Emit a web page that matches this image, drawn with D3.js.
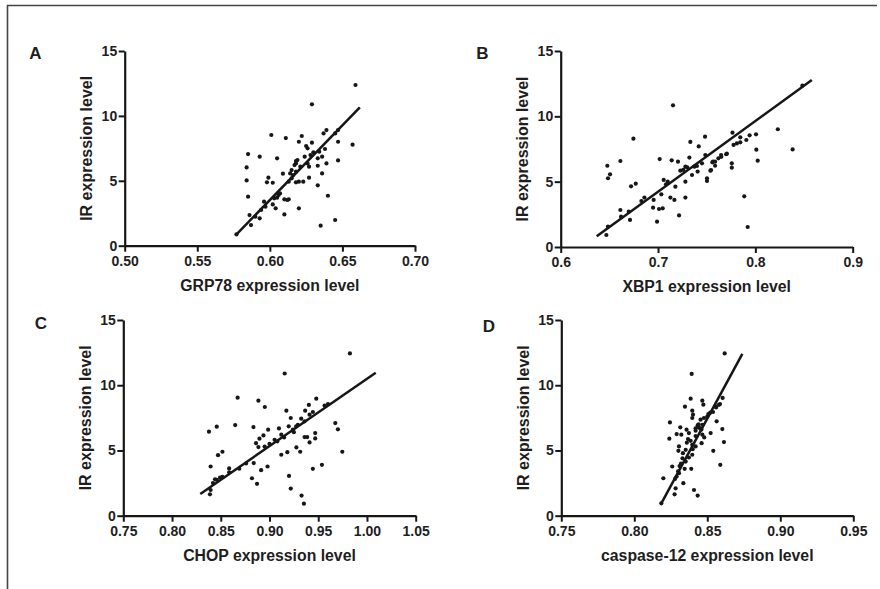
<!DOCTYPE html>
<html><head><meta charset="utf-8">
<script src="https://cdn.jsdelivr.net/npm/d3@7"></script>
<style>
html,body{margin:0;padding:0;background:#fff;}
svg{display:block;font-family:"Liberation Sans",Arial,sans-serif;}
</style></head>
<body>
<svg id="chart" width="880" height="589"></svg>
<script>
// ---------- DATA ----------
const yTicks = [0, 5, 10, 15];
const grp78Ticks = [0.50, 0.55, 0.60, 0.65, 0.70];
const xbp1Ticks = [0.6, 0.7, 0.8, 0.9];
const chopTicks = [0.75, 0.80, 0.85, 0.90, 0.95, 1.00, 1.05];
const casp12Ticks = [0.75, 0.80, 0.85, 0.90, 0.95];

const panelLetters = ["A", "B", "C", "D"];
const xTitles = ["GRP78 expression level", "XBP1 expression level", "CHOP expression level", "caspase-12 expression level"];
const yTitle = "IR expression level";

const grp78Points = [[0.659,12.38],[0.629,10.89],[0.601,8.53],[0.611,8.29],[0.622,8.45],[0.620,8.01],[0.625,7.68],[0.626,7.50],[0.629,7.94],[0.637,8.65],[0.639,8.91],[0.645,8.65],[0.647,8.91],[0.657,7.78],[0.647,8.01],[0.647,6.57],[0.636,5.57],[0.639,6.34],[0.638,7.45],[0.634,7.24],[0.636,6.86],[0.633,6.16],[0.633,6.73],[0.633,4.65],[0.640,3.85],[0.645,1.98],[0.635,1.54],[0.627,5.24],[0.627,6.09],[0.626,6.34],[0.623,4.93],[0.620,4.93],[0.618,4.88],[0.620,2.88],[0.619,6.60],[0.618,6.52],[0.621,6.09],[0.618,5.70],[0.616,5.44],[0.615,5.19],[0.613,4.93],[0.609,5.55],[0.605,6.73],[0.593,6.86],[0.585,7.06],[0.584,6.03],[0.584,5.03],[0.585,3.78],[0.586,2.36],[0.587,1.59],[0.593,2.11],[0.599,5.24],[0.598,4.88],[0.602,4.85],[0.607,4.03],[0.610,3.57],[0.613,3.57],[0.612,3.52],[0.610,2.41],[0.604,2.88],[0.603,3.65],[0.602,3.18],[0.597,3.00],[0.596,3.39],[0.594,2.75],[0.590,2.23],[0.577,0.87],[0.615,5.83],[0.617,6.21],[0.618,6.34],[0.614,5.57],[0.606,3.90],[0.605,3.70],[0.624,6.86],[0.628,6.98],[0.630,7.19]];
const grp78Fit = [[0.577,0.87],[0.662,10.66]];

const xbp1Points = [[0.7154,10.84],[0.6747,8.29],[0.6479,6.22],[0.6613,6.58],[0.6507,5.56],[0.6486,5.26],[0.6723,4.64],[0.6771,4.85],[0.7017,6.73],[0.7140,6.63],[0.7205,6.53],[0.7332,8.04],[0.7418,7.70],[0.7483,8.44],[0.7322,6.84],[0.7281,6.15],[0.7229,5.84],[0.7058,5.13],[0.7082,4.80],[0.7034,4.03],[0.7127,3.78],[0.7168,3.60],[0.7281,3.78],[0.7178,4.62],[0.6949,3.01],[0.7010,2.91],[0.7048,2.96],[0.6990,1.94],[0.7216,2.42],[0.6829,3.52],[0.6955,3.60],[0.6712,2.07],[0.6613,2.83],[0.6620,2.32],[0.6486,1.56],[0.6469,0.92],[0.6699,2.70],[0.7281,5.00],[0.7349,5.51],[0.7407,5.77],[0.7373,6.15],[0.7452,6.40],[0.7503,5.05],[0.7503,5.26],[0.7538,5.84],[0.7565,6.53],[0.7486,7.04],[0.6860,3.78],[0.8483,12.35],[0.8231,9.01],[0.8383,7.47],[0.8010,7.45],[0.8024,6.61],[0.8007,8.62],[0.7941,8.55],[0.7907,8.19],[0.7845,8.39],[0.7845,8.01],[0.7810,7.93],[0.7776,7.81],[0.7765,8.75],[0.7758,6.40],[0.7758,6.07],[0.7886,3.88],[0.7921,1.53],[0.7707,7.14],[0.7648,7.04],[0.7620,6.79],[0.7586,6.53],[0.7558,6.48],[0.7586,6.22],[0.7545,5.89],[0.7260,5.90],[0.7300,6.10],[0.7100,5.00],[0.7400,6.20],[0.7650,6.90],[0.7700,7.10]];
const xbp1Fit = [[0.637,0.82],[0.858,12.78]];

const chopPoints = [[0.9156,10.90],[0.8673,9.05],[0.8886,8.82],[0.8952,8.33],[0.9173,8.05],[0.8379,6.44],[0.8459,6.82],[0.8648,6.95],[0.8835,6.79],[0.8986,6.59],[0.8938,6.15],[0.8897,5.90],[0.8862,5.56],[0.8886,5.26],[0.9097,6.69],[0.9121,6.21],[0.9197,6.85],[0.9218,7.49],[0.8517,4.90],[0.8472,4.64],[0.8396,3.77],[0.8586,3.62],[0.8838,4.03],[0.8914,3.49],[0.8980,3.77],[0.8820,2.87],[0.8872,2.44],[0.9121,4.67],[0.9183,4.87],[0.9200,3.05],[0.9218,2.08],[0.8389,1.64],[0.8396,1.97],[0.8441,2.79],[0.8493,2.92],[0.9276,5.23],[0.9052,5.82],[0.8517,2.97],[0.8586,3.33],[0.8690,3.60],[0.8760,4.00],[0.8950,5.30],[0.9000,5.50],[0.9080,5.70],[0.9150,6.00],[0.9250,6.40],[0.8420,2.50],[0.8460,2.75],[0.9825,12.44],[0.9480,8.97],[0.9404,8.49],[0.9366,8.05],[0.9325,7.44],[0.9675,7.10],[0.9702,6.62],[0.9747,4.90],[0.9538,3.90],[0.9445,3.59],[0.9469,6.33],[0.9469,5.92],[0.9411,5.62],[0.9360,6.03],[0.9387,6.03],[0.9315,4.90],[0.9329,1.54],[0.9353,0.92],[0.9411,7.74],[0.9445,7.95],[0.9565,8.44],[0.9600,8.56],[0.9291,6.97],[0.9240,6.59],[0.9274,6.85],[0.9360,7.23]];
const chopFit = [[0.829,1.67],[1.009,10.95]];

const casp12Points = [[0.8619,12.44],[0.8393,10.87],[0.8386,8.97],[0.8466,8.82],[0.8473,8.51],[0.8347,8.36],[0.8397,8.05],[0.8402,7.74],[0.8397,7.49],[0.8605,9.03],[0.8587,8.56],[0.8557,8.38],[0.8539,7.95],[0.8507,7.79],[0.8477,7.49],[0.8454,7.36],[0.8466,6.97],[0.8434,6.92],[0.8564,7.23],[0.8603,6.64],[0.8614,5.64],[0.8523,6.33],[0.8479,6.00],[0.8466,6.21],[0.8461,5.56],[0.8541,4.97],[0.8589,3.90],[0.8244,7.15],[0.8240,5.90],[0.8315,6.77],[0.8290,6.26],[0.8322,6.21],[0.8358,6.59],[0.8374,6.33],[0.8368,5.87],[0.8386,5.74],[0.8306,5.31],[0.8302,4.97],[0.8352,5.05],[0.8333,4.79],[0.8420,5.31],[0.8397,4.67],[0.8374,4.46],[0.8352,4.15],[0.8260,3.77],[0.8345,3.59],[0.8390,3.59],[0.8306,3.26],[0.8290,3.00],[0.8279,2.82],[0.8199,2.87],[0.8336,2.49],[0.8283,2.10],[0.8276,1.64],[0.8409,1.97],[0.8434,1.54],[0.8185,0.95],[0.8447,6.72],[0.8420,6.51],[0.8397,5.44],[0.8330,4.40],[0.8310,3.80],[0.8420,6.10],[0.8440,6.80],[0.8500,7.60],[0.8520,7.90],[0.8560,8.30],[0.8580,8.50],[0.8300,3.40],[0.8320,4.00],[0.8460,6.60],[0.8420,6.70],[0.8360,5.60],[0.8440,7.00],[0.8400,5.10]];
const casp12Fit = [[0.8185,0.95],[0.874,12.41]];

// ---------- LAYOUT ----------
const panels = [
  {letter: panelLetters[0], title: xTitles[0], pts: grp78Points, fit: grp78Fit, ticks: grp78Ticks, fmt: ".2f",
   x0: 124.7, x1: 415, y0: 245.7, y1: 51, lx: 35.5, ly: 59},
  {letter: panelLetters[1], title: xTitles[1], pts: xbp1Points, fit: xbp1Fit, ticks: xbp1Ticks, fmt: ".1f",
   x0: 560.7, x1: 852.7, y0: 247, y1: 51, lx: 482.5, ly: 59},
  {letter: panelLetters[2], title: xTitles[2], pts: chopPoints, fit: chopFit, ticks: chopTicks, fmt: ".2f",
   x0: 123.3, x1: 415.7, y0: 515.7, y1: 320, lx: 41, ly: 329},
  {letter: panelLetters[3], title: xTitles[3], pts: casp12Points, fit: casp12Fit, ticks: casp12Ticks, fmt: ".2f",
   x0: 561.3, x1: 853.3, y0: 515.7, y1: 320, lx: 489, ly: 331.5}
];

const svg = d3.select("#chart");
svg.append("rect").attr("width", 880).attr("height", 589).attr("fill", "#fff");

// figure frame (top and left edges)
svg.append("path").attr("d", "M7.5,589 V5.5 H877")
  .attr("fill", "none").attr("stroke", "#444").attr("stroke-width", 1.6);

const ink = "#161616";

panels.forEach(p => {
  const x = d3.scaleLinear().domain([p.ticks[0], p.ticks[p.ticks.length - 1]]).range([p.x0, p.x1]);
  const y = d3.scaleLinear().domain([0, 15]).range([p.y0, p.y1]);
  const g = svg.append("g");

  const xAxis = g.append("g").attr("transform", `translate(0,${p.y0})`)
    .call(d3.axisBottom(x).tickValues(p.ticks).tickFormat(d3.format(p.fmt)).tickSize(6).tickSizeOuter(0).tickPadding(4));
  const yAxis = g.append("g").attr("transform", `translate(${p.x0},0)`)
    .call(d3.axisLeft(y).tickValues(yTicks).tickSize(6).tickSizeOuter(0).tickPadding(1.5));
  [xAxis, yAxis].forEach(a => {
    a.select(".domain").attr("stroke", ink).attr("stroke-width", 2.2);
    a.selectAll(".tick line").attr("stroke", ink).attr("stroke-width", 2);
    a.selectAll(".tick text").attr("fill", "#1e1e1e").style("font-size", "14px").style("font-weight", "bold")
      .style("font-family", "'Liberation Sans', Arial, sans-serif");
  });

  // regression line
  g.append("line")
    .attr("x1", x(p.fit[0][0])).attr("y1", y(p.fit[0][1]))
    .attr("x2", x(p.fit[1][0])).attr("y2", y(p.fit[1][1]))
    .attr("stroke", ink).attr("stroke-width", 2.5);

  // points
  g.selectAll("circle.pt").data(p.pts).join("circle").attr("class", "pt")
    .attr("cx", d => x(d[0])).attr("cy", d => y(d[1])).attr("r", 2.1).attr("fill", ink);

  // axis titles
  g.append("text").attr("x", (p.x0 + p.x1) / 2).attr("y", p.y0 + 45)
    .attr("text-anchor", "middle").attr("fill", "#1e1e1e")
    .style("font-size", "15.8px").style("font-weight", "bold").text(p.title);
  g.append("text").attr("transform", `translate(${p.x0 - 38.5},${(p.y0 + p.y1) / 2}) rotate(-90)`)
    .attr("dy", "0.36em").attr("text-anchor", "middle").attr("fill", "#1e1e1e")
    .style("font-size", "16px").style("font-weight", "bold").text(yTitle);

  // panel letter
  g.append("text").attr("x", p.lx).attr("y", p.ly).attr("text-anchor", "middle").attr("fill", "#1e1e1e")
    .style("font-size", "17px").style("font-weight", "bold").text(p.letter);
});
</script>
</body></html>
